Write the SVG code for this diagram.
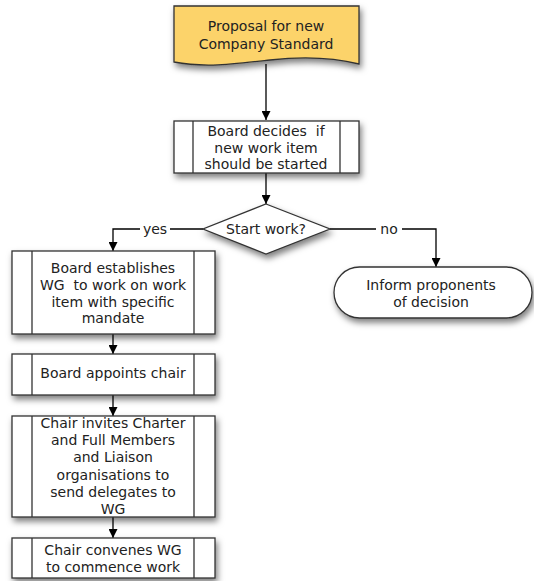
<svg xmlns="http://www.w3.org/2000/svg" width="534" height="581" viewBox="0 0 534 581">
<defs>
<filter id="sh" x="-20%" y="-20%" width="140%" height="160%">
<feDropShadow dx="2" dy="4" stdDeviation="3" flood-color="#000" flood-opacity="0.5"/>
</filter>
<marker id="ah" viewBox="0 0 10 10" refX="10" refY="5" markerWidth="9" markerHeight="9" markerUnits="userSpaceOnUse" orient="auto">
<path d="M0,0 L10,5 L0,10 Z" fill="#000"/>
</marker>
<style>
.b{fill:#fff;stroke:#333;stroke-width:1.3}
.d{fill:#fcd36a;stroke:#333;stroke-width:1.3}
.i{fill:none;stroke:#333;stroke-width:1.3}
.c{fill:none;stroke:#000;stroke-width:1.3;marker-end:url(#ah)}
text{font-family:"DejaVu Sans","Liberation Sans",sans-serif;font-size:14px;fill:#222;text-anchor:middle;dominant-baseline:central;white-space:pre}
</style>
</defs>
<rect width="534" height="581" fill="#fff"/>
<g id="connectors">
<path class="c" d="M266,64 V120"/>
<path class="c" d="M266,173 V204"/>
<path class="c" d="M203,229 H113 V251"/>
<path class="c" d="M330,229 H436 V267"/>
<path class="c" d="M113,334 V354"/>
<path class="c" d="M113,395 V416"/>
<path class="c" d="M113,517 V538"/>
<rect x="140" y="220" width="30" height="18" fill="#fff"/>
<text x="155" y="229">yes</text>
<rect x="376" y="220" width="26" height="18" fill="#fff"/>
<text x="389" y="229">no</text>
</g>
<g id="proposal">
<path class="d" filter="url(#sh)" d="M174,6 H359 V64 C335,58 305,56 270,60 C235,64 205,68 174,62 Z"/>
<text x="266" y="26">Proposal for new</text>
<text x="266" y="44">Company Standard</text>
</g>
<g id="board-decides">
<rect class="b" filter="url(#sh)" x="174" y="121" width="185" height="52"/>
<path class="i" d="M193,121 V173 M340,121 V173"/>
<text x="266" y="131" xml:space="preserve">Board decides  if</text>
<text x="266" y="148">new work item</text>
<text x="266" y="164">should be started</text>
</g>
<g id="start-work">
<path class="b" filter="url(#sh)" d="M266,204 L330,229 L266,254 L203,229 Z"/>
<text x="266" y="229">Start work?</text>
</g>
<g id="establish-wg">
<rect class="b" filter="url(#sh)" x="12" y="251" width="203" height="83"/>
<path class="i" d="M32,251 V334 M194,251 V334"/>
<text x="113" y="268">Board establishes</text>
<text x="113" y="285" xml:space="preserve">WG  to work on work</text>
<text x="113" y="302">item with specific</text>
<text x="113" y="318">mandate</text>
</g>
<g id="inform">
<rect class="b" filter="url(#sh)" x="334" y="267" width="198" height="51" rx="25.5" ry="25.5"/>
<text x="431" y="285">Inform proponents</text>
<text x="431" y="302">of decision</text>
</g>
<g id="appoint-chair">
<rect class="b" filter="url(#sh)" x="12" y="354" width="203" height="41"/>
<path class="i" d="M32,354 V395 M194,354 V395"/>
<text x="113" y="373">Board appoints chair</text>
</g>
<g id="invite">
<rect class="b" filter="url(#sh)" x="12" y="416" width="203" height="101"/>
<path class="i" d="M32,416 V517 M194,416 V517"/>
<text x="113" y="423">Chair invites Charter</text>
<text x="113" y="440">and Full Members</text>
<text x="113" y="457">and Liaison</text>
<text x="113" y="475">organisations to</text>
<text x="113" y="492">send delegates to</text>
<text x="113" y="509">WG</text>
</g>
<g id="convene">
<rect class="b" filter="url(#sh)" x="12" y="538" width="203" height="40"/>
<path class="i" d="M32,538 V578 M194,538 V578"/>
<text x="113" y="550">Chair convenes WG</text>
<text x="113" y="567">to commence work</text>
</g>
</svg>
